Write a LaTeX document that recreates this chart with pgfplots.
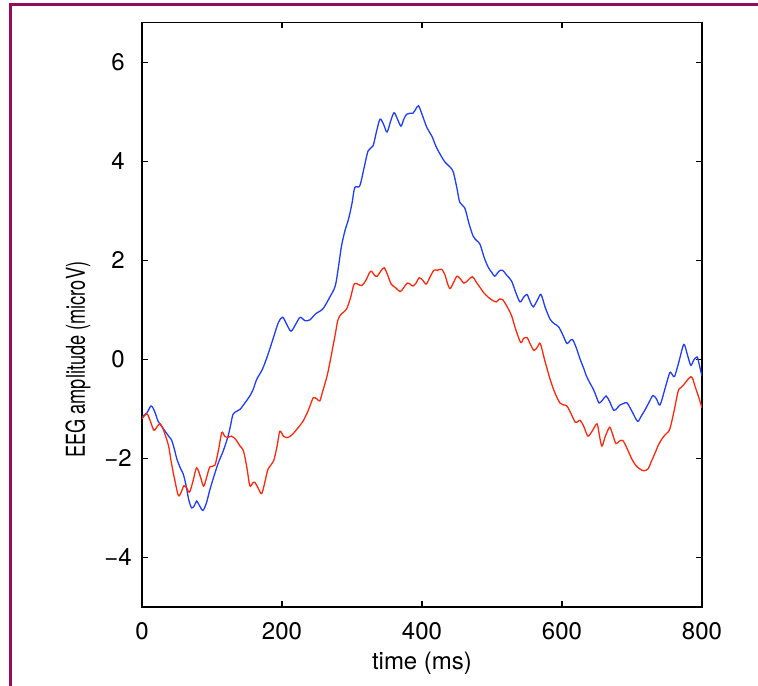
\documentclass[border=0pt]{standalone}
\usepackage{fontspec}
\setmainfont{TeX Gyre Heros}
\usepackage{graphicx}
\usepackage{pgfplots}
\pgfplotsset{compat=1.18}
\definecolor{framec}{RGB}{150,10,90}
\definecolor{eegblue}{RGB}{30,60,255}
\definecolor{eegred}{RGB}{255,40,10}
\begin{document}
\begin{tikzpicture}
\useasboundingbox (0,0) rectangle (379bp,343bp);
\draw[framec, line width=1.6bp] (5.4bp,0) -- (5.4bp,340.6bp) -- (379bp,340.6bp);
\begin{axis}[
  at={(71bp,39.5bp)}, anchor=south west,
  scale only axis, width=280bp, height=292.2bp,
  xmin=0, xmax=800, ymin=-5, ymax=6.8,
  xtick={0,200,400,600,800},
  xticklabels={0,200,400,600,800},
  ytick={-4,-2,0,2,4,6},
  yticklabels={−4,−2,0,2,4,6},
  tick align=inside,
  major tick length=2.8bp,
  axis line style={line width=0.7bp},
  every tick/.style={line width=0.7bp, black},
  tick label style={font=\fontsize{12bp}{14bp}\selectfont, inner sep=0pt},
  xticklabel style={anchor=north, yshift=-7.5bp},
  yticklabel style={anchor=center, xshift=-12bp},
  xlabel={time (ms)},
  ylabel={\scalebox{0.7}[1]{\fontsize{13bp}{15bp}\selectfont EEG amplitude (microV)}},
  label style={font=\fontsize{12bp}{14bp}\selectfont, inner sep=0pt},
  xlabel style={at={(axis description cs:0.5,-0.077)}, anchor=north},
  ylabel style={at={(axis description cs:-0.1143,0.423)}, anchor=center, rotate=0},
  clip=true,
]
\addplot[eegblue, line width=0.65bp, smooth] coordinates {
(0,-1.16)(7,-1.08)(13,-0.94)(18,-1.05)(23,-1.25)(28,-1.35)(33,-1.45)(38,-1.55)(42,-1.62)(46,-1.8)
(50,-2.02)(55,-2.2)(59,-2.32)(63,-2.55)(67,-2.85)(71,-3.0)(75,-2.95)(78,-2.86)(82,-2.95)(87,-3.05)
(92,-2.9)(97,-2.63)(103,-2.35)(109,-2.09)(116,-1.85)(123,-1.55)(127,-1.3)(130,-1.11)(135,-1.05)(140,-1.01)
(147,-0.88)(154,-0.74)(159,-0.6)(164,-0.40)(172,-0.2)(180,0.1)(188,0.45)(195,0.75)(201,0.85)(207,0.7)
(213,0.57)(220,0.72)(226,0.85)(233,0.78)(240,0.8)(248,0.92)(255,0.98)(260,1.05)(268,1.25)(276,1.48)
(281,1.9)(285,2.29)(290,2.6)(295,2.83)(300,3.15)(304,3.47)(311,3.50)(317,3.85)(323,4.21)(330,4.31)
(335,4.6)(340,4.85)(345,4.75)(350,4.59)(355,4.8)(360,4.98)(365,4.85)(370,4.71)(374,4.85)(378,4.95)
(383,4.97)(387,4.97)(391,5.05)(395,5.12)(400,4.95)(407,4.68)(414,4.51)(420,4.3)(426,4.14)(433,3.98)
(441,3.87)(445,3.77)(450,3.45)(454,3.17)(461,3.06)(467,2.75)(473,2.49)(478,2.4)(483,2.32)(489,2.05)
(495,1.85)(500,1.75)(504,1.68)(510,1.78)(515,1.80)(521,1.7)(528,1.58)(534,1.35)(540,1.16)(545,1.25)
(550,1.31)(555,1.15)(559,1.06)(565,1.2)(570,1.31)(576,1.05)(583,0.81)(589,0.72)(595,0.66)(601,0.5)
(607,0.32)(611,0.37)(615,0.40)(620,0.25)(626,0.0)(631,-0.18)(635,-0.34)(640,-0.48)(645,-0.61)(649,-0.75)
(653,-0.88)(658,-0.82)(663,-0.74)(668,-0.85)(674,-1.03)(679,-0.98)(683,-0.92)(688,-0.89)(693,-0.88)(700,-1.05)
(708,-1.25)(713,-1.15)(719,-1.01)(725,-0.85)(730,-0.73)(735,-0.8)(740,-0.92)(747,-0.6)(754,-0.27)(758,-0.32)
(761,-0.34)(767,-0.05)(774,0.30)(779,0.1)(784,-0.12)(788,-0.02)(793,0.05)(796,-0.1)(800,-0.34)
};
\addplot[eegred, line width=0.65bp, smooth] coordinates {
(0,-1.20)(7,-1.10)(12,-1.25)(17,-1.43)(22,-1.35)(26,-1.30)(30,-1.4)(33,-1.52)(38,-1.75)(42,-2.09)
(47,-2.45)(52,-2.75)(56,-2.68)(60,-2.55)(64,-2.6)(68,-2.68)(73,-2.45)(78,-2.19)(83,-2.35)(88,-2.56)
(92,-2.4)(97,-2.17)(104,-2.14)(109,-1.85)(114,-1.48)(118,-1.55)(122,-1.58)(128,-1.55)(134,-1.62)(140,-1.75)
(145,-1.85)(150,-2.2)(154,-2.55)(158,-2.5)(161,-2.48)(166,-2.6)(171,-2.71)(176,-2.45)(180,-2.22)(188,-2.05)
(193,-1.75)(197,-1.45)(202,-1.55)(207,-1.58)(212,-1.55)(216,-1.50)(223,-1.38)(230,-1.25)(237,-1.05)(241,-0.9)
(245,-0.77)(250,-0.8)(254,-0.84)(258,-0.65)(261,-0.51)(265,-0.3)(270,0.05)(276,0.5)(280,0.8)(285,0.92)
(292,1.01)(298,1.25)(303,1.52)(308,1.52)(314,1.49)(320,1.6)(325,1.75)(328,1.78)(332,1.7)(336,1.68)
(341,1.78)(346,1.85)(351,1.7)(356,1.52)(362,1.45)(369,1.37)(374,1.45)(379,1.54)(383,1.52)(387,1.48)
(392,1.55)(396,1.65)(401,1.6)(406,1.52)(411,1.65)(417,1.80)(422,1.8)(428,1.82)(433,1.7)(436,1.55)
(440,1.43)(445,1.55)(450,1.68)(455,1.62)(460,1.54)(466,1.6)(472,1.67)(478,1.55)(483,1.45)(488,1.35)
(495,1.25)(502,1.18)(506,1.16)(511,1.22)(515,1.21)(521,1.08)(528,0.88)(534,0.6)(541,0.34)(545,0.42)
(550,0.44)(555,0.3)(560,0.18)(565,0.25)(569,0.32)(575,0.0)(583,-0.40)(590,-0.68)(597,-0.88)(602,-0.92)
(607,-0.94)(613,-1.1)(619,-1.27)(623,-1.25)(626,-1.23)(631,-1.35)(637,-1.55)(643,-1.45)(650,-1.30)(653,-1.5)
(657,-1.75)(662,-1.55)(668,-1.37)(672,-1.5)(677,-1.70)(682,-1.65)(687,-1.64)(693,-1.8)(700,-2.02)(706,-2.15)
(711,-2.21)(717,-2.25)(723,-2.21)(728,-2.05)(733,-1.89)(738,-1.72)(744,-1.58)(749,-1.5)(754,-1.41)(760,-1.05)
(766,-0.64)(770,-0.57)(774,-0.51)(779,-0.42)(784,-0.35)(787,-0.4)(790,-0.54)(795,-0.75)(800,-0.98)
};
\end{axis}
\end{tikzpicture}
\end{document}
